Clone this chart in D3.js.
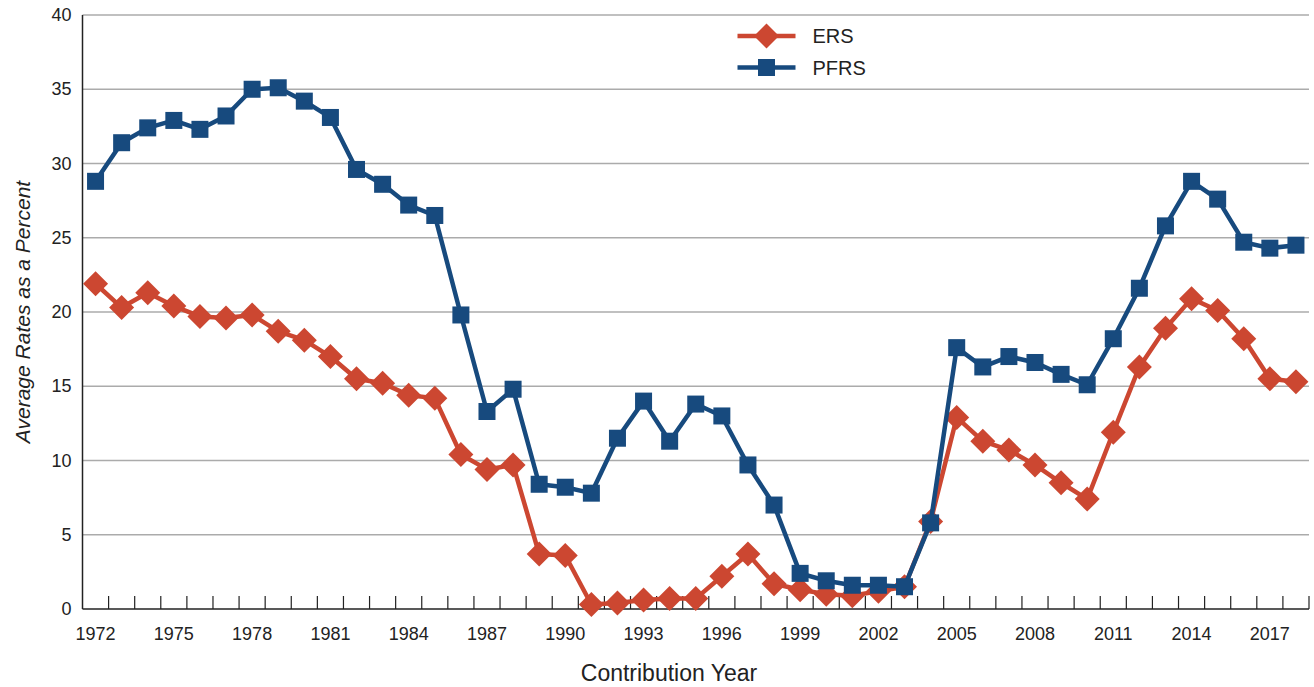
<!DOCTYPE html>
<html>
<head>
<meta charset="utf-8">
<script src="https://cdn.jsdelivr.net/npm/d3@7"></script>
<style>
  body { margin: 0; background: #fff; }
  svg { display: block; font-family: "Liberation Sans", Arial, sans-serif; }
</style>
</head>
<body>
<svg id="chart" width="1314" height="687"></svg>
<script>
// Contribution years 1972..2018
const years = [1972,1973,1974,1975,1976,1977,1978,1979,1980,1981,1982,1983,1984,1985,1986,1987,1988,1989,1990,1991,1992,1993,1994,1995,1996,1997,1998,1999,2000,2001,2002,2003,2004,2005,2006,2007,2008,2009,2010,2011,2012,2013,2014,2015,2016,2017,2018];
const ersValues = [21.9,20.3,21.3,20.4,19.7,19.6,19.8,18.7,18.1,17.0,15.5,15.2,14.4,14.2,10.4,9.4,9.7,3.7,3.6,0.3,0.4,0.6,0.7,0.7,2.2,3.7,1.7,1.3,1.0,0.9,1.2,1.5,5.9,12.9,11.3,10.7,9.7,8.5,7.4,11.9,16.3,18.9,20.9,20.1,18.2,15.5,15.3];
const pfrsValues = [28.8,31.4,32.4,32.9,32.3,33.2,35.0,35.1,34.2,33.1,29.6,28.6,27.2,26.5,19.8,13.3,14.8,8.4,8.2,7.8,11.5,14.0,11.3,13.8,13.0,9.7,7.0,2.4,1.9,1.6,1.6,1.5,5.8,17.6,16.3,17.0,16.6,15.8,15.1,18.2,21.6,25.8,28.8,27.6,24.7,24.3,24.5];
const yTicks = [0,5,10,15,20,25,30,35,40];
const xLabelYears = [1972,1975,1978,1981,1984,1987,1990,1993,1996,1999,2002,2005,2008,2011,2014,2017];

const series = [
  { name: 'ERS', values: ersValues, color: '#cc4731', marker: 'diamond' },
  { name: 'PFRS', values: pfrsValues, color: '#174a7e', marker: 'square' }
];

const margin = { top: 15, right: 5, bottom: 78, left: 82.5 };
const W = 1314, H = 687;
const iw = W - margin.left - margin.right;
const ih = H - margin.top - margin.bottom;

const svg = d3.select('#chart');
const g = svg.append('g').attr('transform', `translate(${margin.left},${margin.top})`);

const x = d3.scaleBand().domain(years).range([0, iw]).padding(0);
const y = d3.scaleLinear().domain([0, 40]).range([ih, 0]);
const cx = d => x(d) + x.bandwidth() / 2;

// Gridlines
g.selectAll('line.grid').data(yTicks.filter(t => t > 0)).join('line')
  .attr('class', 'grid')
  .attr('x1', 0).attr('x2', iw)
  .attr('y1', d => y(d)).attr('y2', d => y(d))
  .attr('stroke', '#ababab').attr('stroke-width', 1.5);

// Y axis labels
g.selectAll('text.ylab').data(yTicks).join('text')
  .attr('class', 'ylab')
  .attr('x', -11).attr('y', d => y(d))
  .attr('text-anchor', 'end').attr('dominant-baseline', 'central')
  .attr('font-size', 18).attr('fill', '#222')
  .text(d => d);

// Axis lines
g.append('line').attr('x1', 0).attr('x2', 0).attr('y1', 0).attr('y2', ih)
  .attr('stroke', '#222').attr('stroke-width', 1.5);
g.append('line').attr('x1', 0).attr('x2', iw).attr('y1', ih).attr('y2', ih)
  .attr('stroke', '#222').attr('stroke-width', 1.5);

// Bottom ticks at band boundaries (pointing inward)
g.selectAll('line.xtick').data(years.slice(1).concat(['end'])).join('line')
  .attr('class', 'xtick')
  .attr('x1', d => d === 'end' ? iw : x(d)).attr('x2', d => d === 'end' ? iw : x(d))
  .attr('y1', ih - 13).attr('y2', ih)
  .attr('stroke', '#222').attr('stroke-width', 1.2);

// X labels
g.selectAll('text.xlab').data(xLabelYears).join('text')
  .attr('class', 'xlab')
  .attr('x', d => cx(d)).attr('y', ih + 31)
  .attr('text-anchor', 'middle')
  .attr('font-size', 18).attr('fill', '#222')
  .text(d => d);

// Axis titles
svg.append('text')
  .attr('x', 669).attr('y', 681)
  .attr('text-anchor', 'middle').attr('font-size', 23).attr('fill', '#222')
  .text('Contribution Year');
svg.append('text')
  .attr('transform', 'translate(30,312) rotate(-90)')
  .attr('text-anchor', 'middle').attr('font-size', 21).attr('font-style', 'italic').attr('fill', '#222')
  .text('Average Rates as a Percent');

const line = d3.line().x((d, i) => cx(years[i])).y(d => y(d));

function drawMarker(sel, type, color) {
  if (type === 'square') {
    sel.append('rect').attr('x', -8.5).attr('y', -8.5).attr('width', 17).attr('height', 17)
      .attr('fill', color);
  } else {
    sel.append('path').attr('d', 'M0,-12.5L12.5,0L0,12.5L-12.5,0Z').attr('fill', color);
  }
}

for (const s of series) {
  g.append('path').datum(s.values).attr('d', line)
    .attr('fill', 'none').attr('stroke', s.color).attr('stroke-width', 4.5)
    .attr('stroke-linejoin', 'round');
  g.selectAll(null).data(s.values).join('g')
    .attr('transform', (d, i) => `translate(${cx(years[i])},${y(d)})`)
    .each(function() { drawMarker(d3.select(this), s.marker, s.color); });
}

// Legend
const legend = svg.append('g').attr('transform', 'translate(737.5,36)');
series.forEach((s, i) => {
  const row = legend.append('g').attr('transform', `translate(0,${i * 31.5})`);
  row.append('line').attr('x1', 0).attr('x2', 58).attr('y1', 0).attr('y2', 0)
    .attr('stroke', s.color).attr('stroke-width', 4.5);
  const m = row.append('g').attr('transform', 'translate(29,0)');
  drawMarker(m, s.marker, s.color);
  row.append('text').attr('x', 75).attr('y', 0)
    .attr('dominant-baseline', 'central').attr('font-size', 20).attr('fill', '#222')
    .text(s.name);
});
</script>
</body>
</html>
